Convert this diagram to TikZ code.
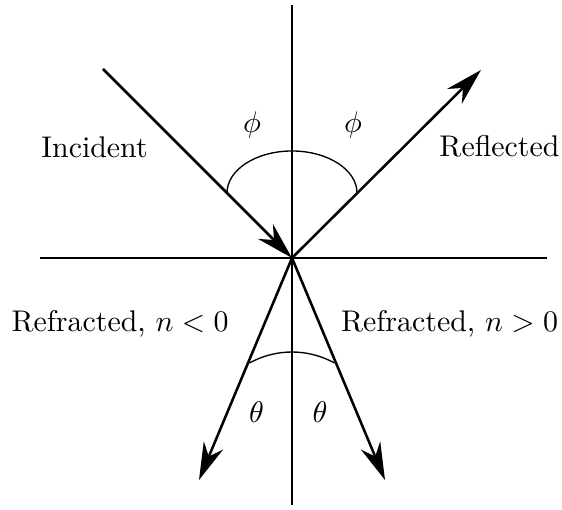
\documentclass[tikz,border=0pt]{standalone}
\usetikzlibrary{arrows.meta}
\begin{document}
\begin{tikzpicture}[x=0.3344pt,y=-0.3344pt,
  axis/.style={line width=0.45pt},
  ray/.style={line width=0.85pt},
  rayarrow/.style={ray,-{Stealth[length=12.5pt,width=7pt,inset=4pt]}},
  anglearc/.style={line width=0.45pt},
  lbl/.style={inner sep=0pt,anchor=base},
  sym/.style={inner sep=0pt,anchor=center}]
\useasboundingbox (0,0) rectangle (562,510);
\coordinate (O) at (292,258);
\coordinate (vt) at (292,5);
\coordinate (vb) at (292,505);
\coordinate (hl) at (40,258);
\coordinate (hr) at (547,258);
\coordinate (inc) at (103,69);
\coordinate (refl) at (481,70);
\coordinate (rneg) at (199,480);
\coordinate (rpos) at (385,480);
\coordinate (ua) at (227,193);
\coordinate (la) at (249.5,363);
\draw[axis] (vt) -- (vb);
\draw[axis] (hl) -- (hr);
\draw[rayarrow] (inc) -- (O);
\draw[rayarrow] (O) -- (refl);
\draw[rayarrow] (O) -- (rneg);
\draw[rayarrow] (O) -- (rpos);
\draw[anglearc] (ua) arc[start angle=180,end angle=0,x radius=65,y radius=-42];
\draw[anglearc] (la) arc[start angle=241,end angle=299,radius=87.6];
\node[lbl] (tinc) at (94.5,158) {Incident};
\node[lbl] (trefl) at (499.5,157) {Reflected};
\node[lbl] (tneg) at (120,332) {Refracted, $n<0$};
\node[lbl] (tpos) at (449.5,332) {Refracted, $n>0$};
\node[sym] (phil) at (252,125) {$\phi$};
\node[sym] (phir) at (353,125) {$\phi$};
\node[sym] (thl) at (256.5,412) {$\theta$};
\node[sym] (thr) at (320,412) {$\theta$};
\end{tikzpicture}
\end{document}
